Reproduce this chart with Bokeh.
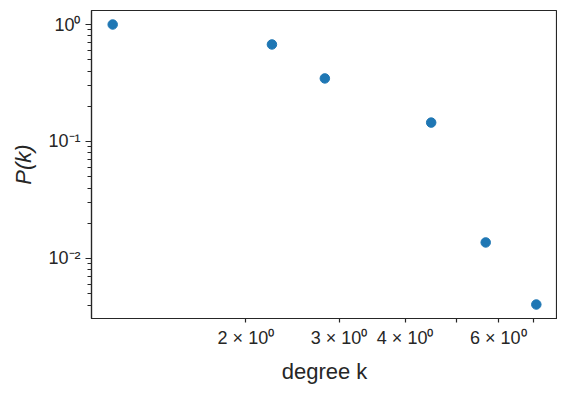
import math
from bokeh.plotting import figure
from bokeh.models import Range1d, FixedTicker
from bokeh.embed import file_html
from bokeh.resources import INLINE

# data
degree_k = [1.12, 2.24, 2.82, 4.48, 5.68, 7.08]
prob_k = [1.0, 0.675, 0.346, 0.145, 0.0137, 0.00404]

x_ticks = [2, 3, 4, 5, 6, 7]
x_tick_labels = ["2 × 10⁰", "3 × 10⁰", "4 × 10⁰", "", "6 × 10⁰", ""]
y_ticks = [0.01, 0.1, 1.0]
y_tick_labels = ["10⁻²", "10⁻¹", "10⁰"]
y_minor = [m * 10.0 ** e for e in (-3, -2, -1, 0) for m in range(2, 10)]

def log_range(vals, margin=0.05):
    lo, hi = math.log10(min(vals)), math.log10(max(vals))
    d = (hi - lo) * margin
    return 10 ** (lo - d), 10 ** (hi + d)

xr = log_range(degree_k)
yr = log_range(prob_k)

INK = "#262626"
FONT = "Liberation Sans"

p = figure(width=557, height=390, x_axis_type="log", y_axis_type="log",
           x_range=Range1d(*xr), y_range=Range1d(*yr),
           output_backend="svg", toolbar_location=None,
           min_border_left=91, min_border_right=0, min_border_top=10, min_border_bottom=72)
p.frame_width = 466
p.frame_height = 308

p.scatter(degree_k, prob_k, size=9.5, color="#1f77b4", line_color="#1f77b4")

p.xgrid.visible = False
p.ygrid.visible = False
p.outline_line_color = INK
p.outline_line_width = 1.2
p.background_fill_color = "white"
p.border_fill_color = "white"

xa = p.xaxis[0]
xa.ticker = FixedTicker(ticks=x_ticks, minor_ticks=[])
xa.major_label_overrides = {t: l for t, l in zip(x_ticks, x_tick_labels)}
xa.major_tick_out = 4
xa.major_tick_in = 0
xa.minor_tick_out = 0
xa.axis_label = "degree k"

ya = p.yaxis[0]
ya.ticker = FixedTicker(ticks=y_ticks, minor_ticks=y_minor)
ya.major_label_overrides = {t: l for t, l in zip(y_ticks, y_tick_labels)}
ya.major_tick_out = 6
ya.major_tick_in = 0
ya.minor_tick_out = 4
ya.minor_tick_in = 0
ya.axis_label = "P(k)"
ya.axis_label_text_font_style = "italic"

for ax in (xa, ya):
    ax.axis_line_color = INK
    ax.axis_line_width = 1.2
    ax.major_tick_line_color = INK
    ax.major_tick_line_width = 1.2
    ax.minor_tick_line_color = INK
    ax.minor_tick_line_width = 1.0
    ax.major_label_text_font = FONT
    ax.major_label_text_font_size = "18px"
    ax.major_label_text_color = INK
    ax.axis_label_text_font = FONT
    ax.axis_label_text_font_size = "22px"
    ax.axis_label_text_color = INK
    ax.major_label_standoff = 5
xa.axis_label_standoff = 8
ya.axis_label_standoff = 9
xa.axis_label_text_font_style = "normal"

open("out.html", "w").write(file_html(p, INLINE))
